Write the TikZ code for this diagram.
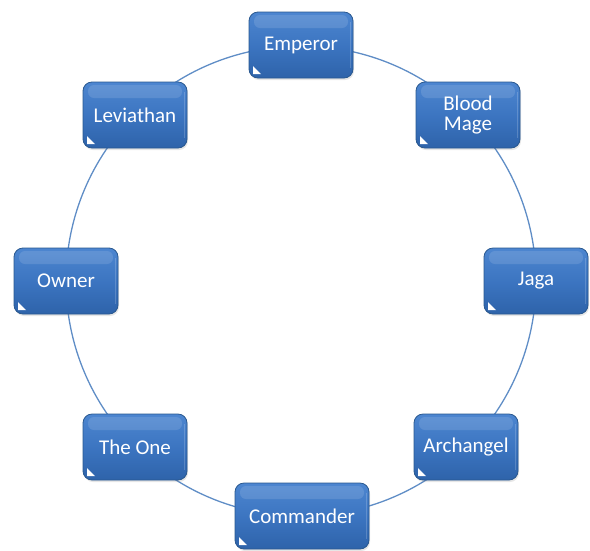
\documentclass[tikz,border=0pt]{standalone}
\usepackage{fontspec}
\setmainfont{Carlito}
\usetikzlibrary{backgrounds, shadows}

\definecolor{boxtop}{HTML}{4D86D0}
\definecolor{boxmid}{HTML}{3C75C1}
\definecolor{boxbot}{HTML}{2E63AA}
\definecolor{boxedge}{HTML}{29588F}
\definecolor{ringline}{HTML}{5F8DC6}

\tikzset{
  rank/.style={rounded corners=9pt, top color=boxtop, bottom color=boxbot, middle color=boxmid, draw=boxedge, line width=0.8pt,
    text=white, font=\fontsize{21}{23}\selectfont, align=center, minimum width=104pt, minimum height=66pt, inner sep=2pt,
    drop shadow={shadow xshift=1pt, shadow yshift=-2pt, opacity=0.2},
    path picture={
      \fill[white, opacity=0.12, rounded corners=6pt] ([xshift=5pt,yshift=-3pt]path picture bounding box.north west) rectangle ([xshift=-5pt,yshift=-16pt]path picture bounding box.north east);
      \fill[white, opacity=0.18, sharp corners] ([xshift=-3.5pt,yshift=10pt]path picture bounding box.south east) rectangle ([xshift=-2pt,yshift=-10pt]path picture bounding box.north east);
      \fill[white, sharp corners, line join=round] ([xshift=4pt,yshift=4pt]path picture bounding box.south west) -- ++(8pt,0) -- ++(-8pt,8pt) -- cycle;
    }},
  ring/.style={draw=ringline, line width=1.3pt}
}

\begin{document}
\begin{tikzpicture}[x=1pt, y=-1pt]
		\useasboundingbox (0,0) rectangle (590,550);
		\coordinate (c) at (301,281);
		
		\node[rank] (emp) at (301,45) {Emperor};
		\node[rank] (blood) at (468,115) {Blood\\[-3pt] Mage};
		\node[rank] (jaga) at (536,281) {Jaga};
		\node[rank] (arch) at (466,447) {Archangel};
		\node[rank, minimum width=134pt] (com) at (302,516) {Commander};
		\node[rank] (one) at (135,447) {The One};
		\node[rank] (own) at (66,281) {Owner};
		\node[rank] (lev) at (135,115) {Leviathan};
		
		\begin{scope}[on background layer]
			\draw[ring] (c) circle[radius=235];
		\end{scope}
	\end{tikzpicture}
\end{document}
